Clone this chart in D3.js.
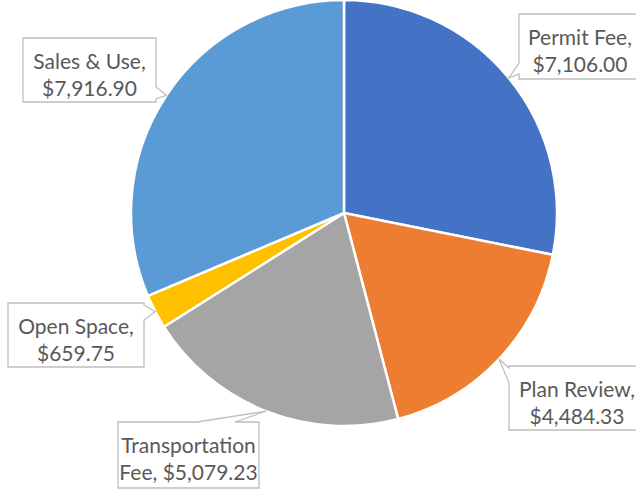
<!DOCTYPE html>
<html><head><meta charset="utf-8">
<script src="https://cdn.jsdelivr.net/npm/d3@7"></script>
<style>body{margin:0;background:#fff}svg{display:block}</style>
</head><body><svg id="c" width="636" height="489"></svg>
<script>
const categories = ["Permit Fee", "Plan Review", "Transportation Fee", "Open Space", "Sales & Use"];
const values = [7106.00, 4484.33, 5079.23, 659.75, 7916.90];
const labelLines = [["Permit Fee,", "$7,106.00"], ["Plan Review,", "$4,484.33"], ["Transportation", "Fee, $5,079.23"], ["Open Space,", "$659.75"], ["Sales & Use,", "$7,916.90"]];
const colors = ["#4472C4", "#ED7D31", "#A5A5A5", "#FFC000", "#5B9BD5"];

// label box layout: x0,y0,x1,y1, pointer edge and base range
const boxes = [
  {x0:519, y0:14, x1:641, y1:79, edge:"left", b:[63,74]},
  {x0:509, y0:366, x1:645, y1:430, edge:"left", b:[368,383]},
  {x0:118, y0:422, x1:259, y1:488, edge:"top", b:[197,235]},
  {x0:8, y0:303, x1:144, y1:367, edge:"right", b:[305,320]},
  {x0:23, y0:38, x1:156, y1:102, edge:"right", b:[87,99]}
];

const svg = d3.select("#c");
const cx = 344, cy = 213, r = 213;
const g = svg.append("g").attr("transform", `translate(${cx},${cy})`);
const pie = d3.pie().sort(null).value(d => d)(values);
const arc = d3.arc().innerRadius(0).outerRadius(r);
g.selectAll("path.s").data(pie).join("path").attr("class","s")
  .attr("d", arc).attr("fill", (d,i) => colors[i])
  .attr("stroke", "#fff").attr("stroke-width", 2.5).attr("stroke-linejoin","round");

pie.forEach((d, i) => {
  const a = (d.startAngle + d.endAngle) / 2;
  const tx = cx + r * Math.sin(a), ty = cy - r * Math.cos(a);
  const bx = boxes[i];
  let pts;
  const {x0,y0,x1,y1,b} = bx;
  if (bx.edge === "left") pts = [[x0,y0],[x1,y0],[x1,y1],[x0,y1],[x0,b[1]],[tx,ty],[x0,b[0]]];
  else if (bx.edge === "right") pts = [[x0,y0],[x1,y0],[x1,b[0]],[tx,ty],[x1,b[1]],[x1,y1],[x0,y1]];
  else pts = [[x0,y0],[b[0],y0],[tx,ty],[b[1],y0],[x1,y0],[x1,y1],[x0,y1]];
  svg.append("path").attr("d", d3.line()(pts) + "Z")
    .attr("fill", "#fff").attr("stroke", "#BFBFBF").attr("stroke-width", 1.3);
  const t = svg.append("text").attr("font-family", "Lato, 'Open Sans', sans-serif")
    .attr("font-size", 21).attr("fill", "#595959").attr("text-anchor", "middle");
  labelLines[i].forEach((ln, k) => {
    t.append("tspan").attr("x", (x0 + x1) / 2).attr("y", y0 + 31 + k * 27).text(ln);
  });
});
</script></body></html>
